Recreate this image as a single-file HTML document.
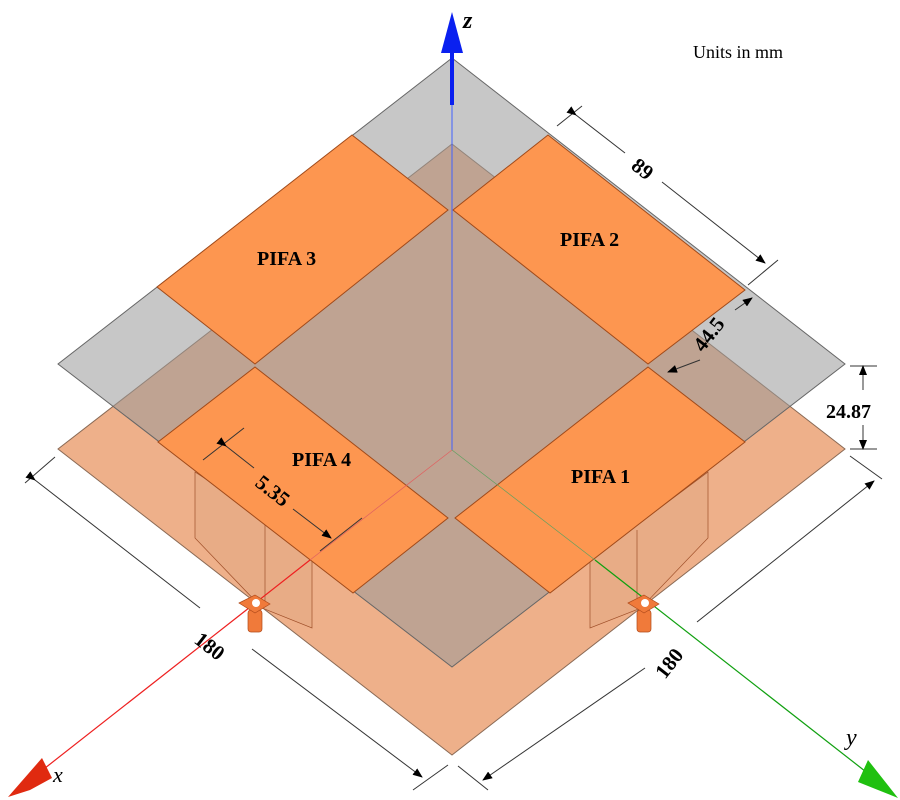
<!DOCTYPE html>
<html><head><meta charset="utf-8"><style>
html,body{margin:0;padding:0;background:#fff;width:900px;height:800px;overflow:hidden}
svg{display:block}
text{font-family:"Liberation Serif",serif;fill:#000}
</style></head><body>
<svg width="900" height="800" viewBox="0 0 900 800" xmlns="http://www.w3.org/2000/svg">
<defs>
<marker id="ah" markerWidth="10" markerHeight="8" refX="9" refY="4" orient="auto" markerUnits="userSpaceOnUse"><path d="M0,0 L10,4 L0,8 Z" fill="#000"/></marker>
</defs>
<polygon points="452,144 845,449 452,755 58,449" fill="#eeb08a" stroke="#8a6a55" stroke-width="1"/>
<polygon points="195,472 195,538 262,608 312,628 312,548" fill="#e0a880" fill-opacity="0.45" stroke="#a0502a" stroke-width="0.7"/>
<line x1="265" y1="512" x2="265" y2="605" stroke="#a0502a" stroke-width="0.7"/>
<polygon points="708,472 708,538 641,608 590,628 590,560" fill="#e0a880" fill-opacity="0.45" stroke="#a0502a" stroke-width="0.7"/>
<line x1="637" y1="530" x2="637" y2="605" stroke="#a0502a" stroke-width="0.7"/>
<polygon points="452,58 845,364 452,667 58,364" fill="#999" fill-opacity="0.55" stroke="#666" stroke-width="1"/>
<g fill="#fd9650" stroke="#a04a1a" stroke-width="1">
<polygon points="352,135 448,210 255,364 157,287"/>
<polygon points="548,135 745,290 648,364 453,210"/>
<polygon points="255,367 448,518 353,593 158,442"/>
<polygon points="648,367 745,442 550,593 455,518"/>
</g>
<line x1="452" y1="450" x2="452" y2="105" stroke="#4060ff" stroke-width="1"/>
<line x1="452" y1="105" x2="452" y2="50" stroke="#0a20f0" stroke-width="4"/>
<polygon points="452,12 441,53 463,53" fill="#0a20f0"/>
<line x1="452" y1="450" x2="310" y2="560" stroke="#e06060" stroke-width="0.7"/>
<line x1="310" y1="560" x2="40" y2="772" stroke="#ee2020" stroke-width="1.2"/>
<polygon points="8,797 42,758 52,778 30,790" fill="#e02a10"/>
<line x1="452" y1="450" x2="595" y2="560" stroke="#60a060" stroke-width="0.7"/>
<line x1="595" y1="560" x2="870" y2="775" stroke="#10a010" stroke-width="1.2"/>
<polygon points="898,798 868,760 858,782 878,790" fill="#20c010"/>
<g fill="#f07a3a" stroke="#b04a1a" stroke-width="0.7">
<rect x="248" y="610" width="14" height="22" rx="3"/>
<polygon points="239,603 255,595 270,604 255,613"/>
<rect x="637" y="610" width="14" height="22" rx="3"/>
<polygon points="628,603 644,595 659,604 644,613"/>
</g>
<circle cx="256" cy="603" r="4" fill="#fff"/>
<circle cx="645" cy="603" r="4" fill="#fff"/>
<text x="463" y="28" font-size="24" font-style="italic" font-weight="bold">z</text>
<text x="693" y="58" font-size="18">Units in mm</text>
<text x="257" y="265" font-size="20" font-weight="600">PIFA 3</text>
<text x="560" y="246" font-size="20" font-weight="600">PIFA 2</text>
<text x="292" y="466" font-size="20" font-weight="600">PIFA 4</text>
<text x="571" y="483" font-size="20" font-weight="600">PIFA 1</text>
<text x="53" y="782" font-size="22" font-style="italic">x</text>
<text x="846" y="745" font-size="24" font-style="italic">y</text>
<g stroke="#333" stroke-width="1" fill="none">
<line x1="557" y1="126" x2="582" y2="106"/>
<line x1="748" y1="285" x2="778" y2="260"/>
<line x1="576" y1="115" x2="625" y2="153" marker-start="url(#ah)"/>
<line x1="662" y1="182" x2="765" y2="263" marker-end="url(#ah)"/>
<line x1="700" y1="360" x2="668" y2="372" marker-end="url(#ah)"/>
<line x1="735" y1="310" x2="752" y2="298" marker-end="url(#ah)"/>
<line x1="850" y1="366" x2="877" y2="366"/>
<line x1="850" y1="449" x2="877" y2="449"/>
<line x1="863" y1="390" x2="863" y2="366" marker-end="url(#ah)"/>
<line x1="863" y1="425" x2="863" y2="449" marker-end="url(#ah)"/>
<line x1="25" y1="483" x2="55" y2="457"/>
<line x1="35" y1="480" x2="200" y2="608" marker-start="url(#ah)"/>
<line x1="252" y1="649" x2="422" y2="777" marker-end="url(#ah)"/>
<line x1="413" y1="790" x2="448" y2="765"/>
<line x1="458" y1="766" x2="488" y2="790"/>
<line x1="645" y1="668" x2="483" y2="780" marker-end="url(#ah)"/>
<line x1="697" y1="622" x2="874" y2="481" marker-end="url(#ah)"/>
<line x1="850" y1="456" x2="882" y2="479"/>
<line x1="203" y1="460" x2="244" y2="428"/>
<line x1="320" y1="551" x2="362" y2="518"/>
<line x1="226" y1="446" x2="254" y2="468" marker-start="url(#ah)"/>
<line x1="293" y1="509" x2="331" y2="538" marker-end="url(#ah)"/>
</g>
<text font-size="21" font-weight="600" transform="translate(630,168) rotate(38)">89</text>
<text font-size="21" font-weight="600" transform="translate(703,353) rotate(-52)">44.5</text>
<text x="826" y="418" font-size="20" font-weight="600">24.87</text>
<text font-size="21" font-weight="600" transform="translate(193,642) rotate(38)">180</text>
<text font-size="21" font-weight="600" transform="translate(665,680) rotate(-52)">180</text>
<text font-size="21" font-weight="600" transform="translate(254,485) rotate(38)">5.35</text>
</svg>
</body></html>
